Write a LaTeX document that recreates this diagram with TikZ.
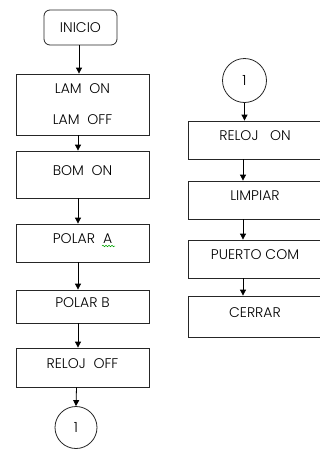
\documentclass[tikz,border=0pt]{standalone}
\usepackage{fontspec}
\setmainfont{Poppins Light}
\usetikzlibrary{arrows.meta,decorations.pathmorphing}

\tikzset{
  caja/.style={draw=black!85, line width=0.8pt, minimum width=133pt, inner sep=0pt,
    text height=10pt, text depth=9pt},
  inicio/.style={draw=black!85, line width=0.8pt, rounded corners=6pt,
    minimum width=73pt, minimum height=35pt, inner sep=0pt},
  conector/.style={circle, draw=black!85, line width=0.8pt, minimum size=42pt, inner sep=0pt},
  flecha/.style={draw=black, line width=0.8pt, -{Triangle[length=6pt,width=6pt]}}
}

\begin{document}
\begin{tikzpicture}[x=1pt, y=-1pt, font=\fontsize{14}{17}\selectfont]
\useasboundingbox (0,0) rectangle (320,453);

% columna izquierda
\node[inicio] (inicio) at (80.5,27.5) {INICIO};
\node[draw=black!85, line width=0.8pt, minimum width=133pt, minimum height=61pt, align=center, inner sep=0pt]
  (lam) at (82.5,104.5) {LAM\ \ ON\\[14pt]LAM\ \ OFF};
\node[caja, minimum height=47pt] (bom) at (82.5,174.5) {BOM\ \ ON};
\node[caja, minimum height=38pt] (polara) at (82.5,243) {POLAR\hspace{8pt}A};
\node[caja, minimum height=33pt] (polarb) at (82.5,306.5) {POLAR B};
\node[caja, minimum height=39pt] (relojoff) at (82.5,367.5) {RELOJ\ \ OFF};
\node[conector] (fin) at (76,427.5) {1};

% subrayado del corrector
\draw[green!65!black, line width=0.5pt, decorate, decoration={snake, amplitude=0.8pt, segment length=3pt}]
  (102,246) -- (115,246);

% columna derecha
\node[conector, minimum size=44pt] (ini) at (244.5,80.5) {1};
\node[caja, minimum width=134pt, minimum height=38pt] (relojon) at (255,140) {RELOJ\ \ \ ON};
\node[caja, minimum width=134pt, minimum height=38pt] (limpiar) at (255,200) {LIMPIAR};
\node[caja, minimum width=134pt, minimum height=38pt] (puerto) at (255,259) {PUERTO COM};
\node[caja, minimum width=134pt, minimum height=41pt] (cerrar) at (255,316.5) {CERRAR};

\draw[flecha] ([xshift=-1.5pt]inicio.south) -- ([xshift=-3.5pt]lam.north);
\foreach \a/\b in {lam/bom, bom/polara, polara/polarb, polarb/relojoff}
  \draw[flecha] ([xshift=-4.5pt]\a.south) -- ([xshift=-4.5pt]\b.north);
\draw[flecha] ([xshift=-6pt]relojoff.south) -- (fin.north);

\draw[flecha] (ini.south) -- (ini.south |- relojon.north);
\foreach \a/\b in {relojon/limpiar, limpiar/puerto, puerto/cerrar}
  \draw[flecha] ([xshift=-12pt]\a.south) -- ([xshift=-12pt]\b.north);

\end{tikzpicture}
\end{document}
